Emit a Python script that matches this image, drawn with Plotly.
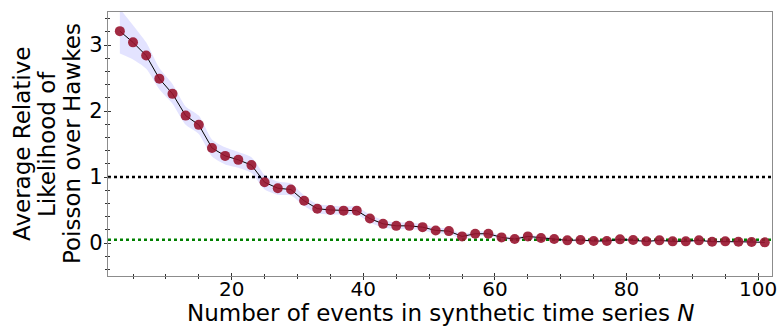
import plotly.graph_objects as go

# Number of events N in each synthetic series
n_events = list(range(3, 102, 2))

# Average relative likelihood (Poisson over Hawkes) for each N
rel_likelihood = [
    3.21, 3.04, 2.84, 2.49, 2.26, 1.93, 1.79, 1.44, 1.32, 1.26,
    1.18, 0.92, 0.83, 0.81, 0.64, 0.52, 0.50, 0.49, 0.49, 0.37,
    0.29, 0.26, 0.26, 0.24, 0.19, 0.18, 0.10, 0.14, 0.14, 0.085,
    0.06, 0.10, 0.076, 0.06, 0.04, 0.045, 0.03, 0.03, 0.055, 0.045,
    0.025, 0.04, 0.025, 0.025, 0.04, 0.02, 0.025, 0.02, 0.015, 0.01,
]

# Spread (half-width of the shaded band) around each mean
spread = [
    0.34, 0.26, 0.20, 0.16, 0.15, 0.14, 0.14, 0.13, 0.13, 0.12,
    0.12, 0.11, 0.10, 0.09, 0.08, 0.07, 0.07, 0.065, 0.06, 0.06,
    0.055, 0.05, 0.05, 0.045, 0.045, 0.04, 0.04, 0.035, 0.035, 0.03,
    0.03, 0.025, 0.025, 0.025, 0.02, 0.02, 0.02, 0.02, 0.02, 0.02,
    0.018, 0.018, 0.018, 0.018, 0.018, 0.016, 0.016, 0.016, 0.016, 0.016,
]

# Reference levels: equal likelihood and the 5% line
equal_level = 1.0
low_level = 0.05

upper = [m + s for m, s in zip(rel_likelihood, spread)]
lower = [m - s for m, s in zip(rel_likelihood, spread)]

FONT = "DejaVu Sans"
SPINE = "#8c8c8c"
TICK = "#333333"

W, H = 779, 327
M_L, M_R, M_T, M_B = 108, 7, 12, 51
plot_w = W - M_L - M_R
plot_h = H - M_T - M_B

fig = go.Figure()

# shaded spread band
fig.add_trace(go.Scatter(
    x=n_events + n_events[::-1],
    y=upper + lower[::-1],
    fill="toself",
    fillcolor="rgba(0,0,255,0.11)",
    line=dict(width=0, shape="spline", smoothing=0.6),
    mode="lines",
    hoverinfo="skip",
    showlegend=False,
))

# mean curve with markers
fig.add_trace(go.Scatter(
    x=n_events,
    y=rel_likelihood,
    mode="lines+markers",
    line=dict(color="black", width=1),
    marker=dict(color="rgba(152,20,46,0.9)", size=10, line=dict(width=0)),
    showlegend=False,
))

# empty trace that carries the mirrored (inward tick) axes
fig.add_trace(go.Scatter(x=[], y=[], xaxis="x2", yaxis="y2", showlegend=False))

fig.add_hline(y=equal_level, line=dict(color="black", width=2.5, dash="dot"), layer="below")
fig.add_hline(y=low_level, line=dict(color="#008000", width=2.5, dash="dot"), layer="below")

x_range = [1.2, 102.1]
y_range = [-0.5, 3.5]
x_ticks = [20, 40, 60, 80, 100]
y_ticks = [0, 1, 2, 3]

fig.update_layout(
    width=W,
    height=H,
    margin=dict(l=M_L, r=M_R, t=M_T, b=M_B),
    paper_bgcolor="white",
    plot_bgcolor="white",
    font=dict(family=FONT, color="black", size=21),
    xaxis=dict(
        range=x_range, automargin=False,
        tickvals=x_ticks,
        ticks="outside", ticklen=3, tickwidth=1, tickcolor=TICK,
        minor=dict(dtick=5, tick0=0, ticks="outside", ticklen=2, tickcolor=TICK),
        showgrid=False, zeroline=False,
        showline=True, linecolor=SPINE, linewidth=1.2, mirror=True,
        tickfont=dict(size=20), ticklabelstandoff=-8,
    ),
    yaxis=dict(
        range=y_range, automargin=False,
        tickvals=y_ticks,
        ticks="outside", ticklen=3, tickwidth=1, tickcolor=TICK,
        minor=dict(dtick=0.2, tick0=0, ticks="outside", ticklen=2, tickcolor=TICK),
        showgrid=False, zeroline=False,
        showline=True, linecolor=SPINE, linewidth=1.2, mirror=True,
        tickfont=dict(size=21), ticklabelstandoff=-3,
    ),
    xaxis2=dict(
        range=x_range, overlaying="x", anchor="y2", side="bottom", automargin=False,
        tickvals=x_ticks, showticklabels=False,
        ticks="inside", ticklen=3, tickcolor=TICK,
        minor=dict(dtick=5, tick0=0, ticks="inside", ticklen=2, tickcolor=TICK),
        showgrid=False, zeroline=False, showline=False,
    ),
    yaxis2=dict(
        range=y_range, overlaying="y", anchor="x2", side="left", automargin=False,
        tickvals=y_ticks, showticklabels=False,
        ticks="inside", ticklen=3, tickcolor=TICK,
        minor=dict(dtick=0.2, tick0=0, ticks="inside", ticklen=2, tickcolor=TICK),
        showgrid=False, zeroline=False, showline=False,
    ),
)

# horizontal axis title, bottom-aligned to the page edge
fig.add_annotation(
    text="Number of events in synthetic time series <i>N</i>",
    xref="paper", yref="paper",
    x=0.5, y=-(326.5 - (H - M_B)) / plot_h,
    xanchor="center", yanchor="bottom", borderpad=0,
    showarrow=False, font=dict(size=23),
)

# three-line vertical axis title
title_lines = ["Average Relative", "Likelihood of", "Poisson over Hawkes"]
for i, line in enumerate(title_lines):
    fig.add_annotation(
        text=line, textangle=-90,
        xref="paper", yref="paper",
        x=(22 + 25 * i - M_L) / plot_w, y=0.5,
        xanchor="center", yanchor="middle", borderpad=0,
        showarrow=False, font=dict(size=23),
    )

fig.write_html("out.html")
